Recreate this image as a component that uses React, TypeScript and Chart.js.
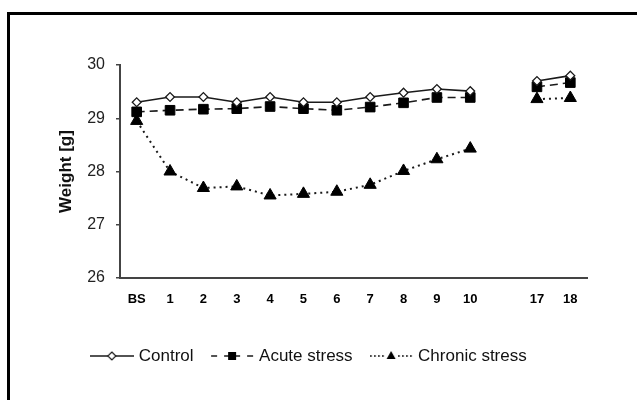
import React, { useEffect, useRef } from 'react';
import { Chart, registerables } from 'chart.js';

Chart.register(...registerables);

const categories = ['BS', '1', '2', '3', '4', '5', '6', '7', '8', '9', '10', '', '17', '18'];
const controlWeights = [29.3, 29.4, 29.4, 29.3, 29.4, 29.3, 29.3, 29.4, 29.48, 29.55, 29.51, null, 29.7, 29.8];
const acuteWeights = [29.12, 29.15, 29.17, 29.18, 29.22, 29.18, 29.15, 29.21, 29.29, 29.39, 29.39, null, 29.59, 29.67];
const chronicWeights = [28.95, 28.0, 27.69, 27.72, 27.55, 27.58, 27.62, 27.75, 28.01, 28.23, 28.43, null, 29.36, 29.38];
const seriesNames = ['Control', 'Acute stress', 'Chronic stress'];
const yMin = 26;
const yMax = 30;
const yStep = 1;
const yTitle = 'Weight [g]';

const FONT = 'Arial, "Liberation Sans", sans-serif';

function makeSample(kind: number): HTMLCanvasElement {
  const c = document.createElement('canvas');
  c.width = 44;
  c.height = 14;
  const g = c.getContext('2d')!;
  const cy = 7;
  const cx = 22;
  g.strokeStyle = '#1a1a1a';
  g.fillStyle = '#000';
  if (kind === 0) {
    g.lineWidth = 1.5;
    g.beginPath();
    g.moveTo(0, cy);
    g.lineTo(44, cy);
    g.stroke();
    g.beginPath();
    g.moveTo(cx, cy - 4);
    g.lineTo(cx + 4, cy);
    g.lineTo(cx, cy + 4);
    g.lineTo(cx - 4, cy);
    g.closePath();
    g.fillStyle = '#fff';
    g.fill();
    g.lineWidth = 1.2;
    g.stroke();
  } else if (kind === 1) {
    g.lineWidth = 1.5;
    [[1, 7], [14, 30], [37, 43]].forEach(([a, b]) => {
      g.beginPath();
      g.moveTo(a, cy);
      g.lineTo(b, cy);
      g.stroke();
    });
    g.fillRect(cx - 4, cy - 4, 8, 8);
  } else {
    for (let x = 1; x < 17; x += 4) g.fillRect(x, cy - 0.8, 1.6, 1.6);
    for (let x = 29; x < 44; x += 4) g.fillRect(x, cy - 0.8, 1.6, 1.6);
    g.beginPath();
    g.moveTo(cx, cy - 5);
    g.lineTo(cx + 4.5, cy + 3);
    g.lineTo(cx - 4.5, cy + 3);
    g.closePath();
    g.fill();
  }
  return c;
}

export default function App() {
  const ref = useRef<HTMLCanvasElement>(null);

  useEffect(() => {
    Chart.defaults.font.family = FONT;
    const samples = [makeSample(0), makeSample(1), makeSample(2)];
    const chart = new Chart(ref.current!, {
      type: 'line',
      data: {
        labels: categories,
        datasets: [
          {
            label: seriesNames[0],
            data: controlWeights,
            borderColor: '#1a1a1a',
            borderWidth: 1.6,
            pointStyle: 'rectRot',
            pointRadius: 4.4,
            pointBackgroundColor: '#fff',
            pointBorderColor: '#1a1a1a',
            pointBorderWidth: 1.3,
            spanGaps: false,
            tension: 0,
          },
          {
            label: seriesNames[1],
            data: acuteWeights,
            borderColor: '#1a1a1a',
            borderWidth: 1.6,
            borderDash: [8, 5],
            pointStyle: 'rect',
            pointRadius: 6.8,
            pointBackgroundColor: '#000',
            pointBorderColor: '#000',
            pointBorderWidth: 1,
            spanGaps: false,
            tension: 0,
          },
          {
            label: seriesNames[2],
            data: chronicWeights,
            borderColor: '#1a1a1a',
            borderWidth: 2,
            borderDash: [2, 4],
            pointStyle: 'triangle',
            pointRadius: 7,
            pointBackgroundColor: '#000',
            pointBorderColor: '#000',
            pointBorderWidth: 1,
            spanGaps: false,
            tension: 0,
          },
        ],
      },
      options: {
        animation: false,
        responsive: false,
        layout: { padding: { left: 33, right: 50, top: 65, bottom: 25.5 } },
        plugins: {
          tooltip: { enabled: false },
          legend: {
            position: 'bottom',
            labels: {
              usePointStyle: true,
              pointStyleWidth: 37,
              padding: 20,
              color: '#111',
              font: { size: 17, family: FONT },
              generateLabels: (ch: any) =>
                ch.data.datasets.map((ds: any, i: number) => ({
                  text: ds.label,
                  pointStyle: samples[i],
                  fillStyle: '#000',
                  strokeStyle: '#000',
                  lineWidth: 0,
                  hidden: false,
                  datasetIndex: i,
                  fontColor: '#111',
                })),
            },
          },
        },
        scales: {
          x: {
            offset: true,
            grid: { display: false, drawTicks: false },
            border: { display: true, color: '#444', width: 2 },
            ticks: {
              autoSkip: false,
              maxRotation: 0,
              padding: 14,
              color: '#000',
              font: { size: 13, weight: 'bold', family: FONT },
            },
            afterFit: (s: any) => {
              s.height = 49.5;
            },
          },
          y: {
            min: yMin,
            max: yMax,
            ticks: { stepSize: yStep, padding: 11, color: '#222', font: { size: 16, family: FONT } },
            grid: { drawOnChartArea: false, drawTicks: true, tickLength: 4, color: '#444', lineWidth: 1.5 },
            border: { display: true, color: '#444', width: 2 },
            title: {
              display: true,
              text: yTitle,
              color: '#111',
              font: { size: 17, weight: 'bold', family: FONT },
              padding: { top: 23, bottom: 0 },
            },
            afterFit: (s: any) => {
              s.width = 87;
            },
          },
        },
      },
    } as any);
    return () => chart.destroy();
  }, []);

  return (
    <div style={{ position: 'fixed', left: 0, top: 0, width: 637, height: 400, overflow: 'hidden', background: '#fff' }}>
      <div
        style={{
          position: 'absolute',
          left: 7,
          top: 12,
          width: 630,
          height: 388,
          boxSizing: 'border-box',
          borderTop: '3px solid #000',
          borderLeft: '3px solid #000',
        }}
      />
      <canvas ref={ref} width={637} height={400} style={{ position: 'absolute', left: 0, top: 0, width: 637, height: 400 }} />
    </div>
  );
}
